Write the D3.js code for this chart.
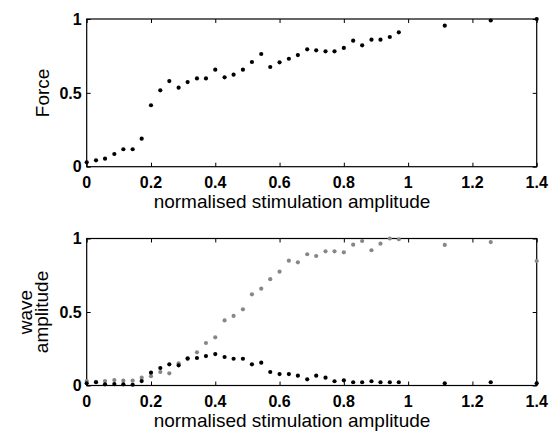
<!DOCTYPE html>
<html>
<head>
<meta charset="utf-8">
<script src="https://cdn.jsdelivr.net/npm/d3@7"></script>
<style>
  html, body { margin: 0; padding: 0; background: #fff; }
  svg { display: block; }
</style>
</head>
<body>
<svg id="chart" width="550" height="431"></svg>
<script>
// ---- data ----
const stimAmp = [0.000,0.029,0.057,0.086,0.114,0.143,0.171,0.200,0.229,0.257,
                 0.286,0.314,0.343,0.371,0.400,0.429,0.457,0.486,0.514,0.543,
                 0.571,0.600,0.629,0.657,0.686,0.714,0.743,0.771,0.800,0.829,
                 0.857,0.886,0.914,0.943,0.971,1.114,1.257,1.400];
const force = [0.030,0.043,0.054,0.086,0.118,0.118,0.190,0.416,0.517,0.580,
               0.535,0.573,0.598,0.598,0.657,0.605,0.623,0.657,0.709,0.763,
               0.675,0.707,0.731,0.756,0.795,0.788,0.781,0.781,0.804,0.853,
               0.822,0.860,0.860,0.878,0.910,0.955,0.990,1.000];
const waveGray = [0.030,0.025,0.030,0.037,0.033,0.033,0.053,0.063,0.092,0.083,
                  0.151,0.180,0.226,0.289,0.328,0.443,0.473,0.518,0.620,0.659,
                  0.723,0.774,0.849,0.838,0.893,0.881,0.913,0.913,0.906,0.958,
                  0.983,0.920,0.965,1.000,0.995,0.956,0.976,0.847];
const waveBlack = [0.015,0.022,0.008,0.010,0.008,0.005,0.030,0.087,0.119,0.144,
                   0.137,0.185,0.187,0.200,0.214,0.194,0.182,0.182,0.144,0.155,
                   0.092,0.078,0.078,0.067,0.042,0.067,0.053,0.029,0.035,0.022,
                   0.022,0.029,0.022,0.022,0.022,0.015,0.022,0.015];
const xTicks = [0,0.2,0.4,0.6,0.8,1,1.2,1.4];
const xTickLabels = ["0","0.2","0.4","0.6","0.8","1","1.2","1.4"];
const yTicks = [0,0.5,1];
const yTickLabels = ["0","0.5","1"];
const xTitle = "normalised stimulation amplitude";

// ---- drawing ----
const svg = d3.select("#chart");
const left = 86.7, right = 536.7;
const x = d3.scaleLinear().domain([0,1.4]).range([left,right]);

function panel(top, bottom, seriesList, yLabelLines, yLabelX) {
  const y = d3.scaleLinear().domain([0,1]).range([bottom, top]);
  const g = svg.append("g");
  const tickLen = 4;

  // box
  g.append("rect").attr("x", left).attr("y", top)
    .attr("width", right-left).attr("height", bottom-top)
    .attr("fill","none").attr("stroke","#000").attr("stroke-width",1.2);

  // inward ticks (all four sides)
  const axB = d3.axisBottom(x).tickValues(xTicks).tickSizeInner(-tickLen).tickSizeOuter(0).tickFormat("");
  const axT = d3.axisTop(x).tickValues(xTicks).tickSizeInner(-tickLen).tickSizeOuter(0).tickFormat("");
  const axL = d3.axisLeft(y).tickValues(yTicks).tickSizeInner(-tickLen).tickSizeOuter(0).tickFormat("");
  const axR = d3.axisRight(y).tickValues(yTicks).tickSizeInner(-tickLen).tickSizeOuter(0).tickFormat("");
  [[axB,`translate(0,${bottom})`],[axT,`translate(0,${top})`],
   [axL,`translate(${left},0)`],[axR,`translate(${right},0)`]].forEach(([ax,tr])=>{
    const a = g.append("g").attr("transform",tr).call(ax);
    a.select(".domain").remove();
    a.selectAll("line").attr("stroke","#000").attr("stroke-width",1);
  });

  // tick labels
  g.selectAll(".xl").data(xTicks).enter().append("text")
    .attr("x", d=>x(d)).attr("y", bottom+21)
    .attr("text-anchor","middle")
    .attr("font-family","Liberation Sans, Arial, sans-serif")
    .attr("font-weight","bold").attr("font-size",16)
    .text((d,i)=>xTickLabels[i]);
  g.selectAll(".yl").data(yTicks).enter().append("text")
    .attr("x", left-5).attr("y", d=>y(d)).attr("dy","0.36em")
    .attr("text-anchor","end")
    .attr("font-family","Liberation Sans, Arial, sans-serif")
    .attr("font-weight","bold").attr("font-size",16)
    .text((d,i)=>yTickLabels[i]);

  // x title
  g.append("text").attr("x",292).attr("y",bottom+41)
    .attr("text-anchor","middle")
    .attr("font-family","Liberation Sans, Arial, sans-serif")
    .attr("font-size",19).text(xTitle);

  // y label
  const cy = (top+bottom)/2;
  yLabelLines.forEach((t,i)=>{
    g.append("text")
      .attr("transform",`translate(${yLabelX[i]},${cy}) rotate(-90)`)
      .attr("text-anchor","middle")
      .attr("font-family","Liberation Sans, Arial, sans-serif")
      .attr("font-size",19).text(t);
  });

  // points
  seriesList.forEach(s=>{
    g.append("g").selectAll("circle").data(s.values).enter().append("circle")
      .attr("cx",(d,i)=>x(stimAmp[i])).attr("cy",d=>y(d))
      .attr("r",2.1).attr("fill",s.color);
  });
}

panel(19, 166.7, [{values: force, color:"#000"}], ["Force"], [49]);
panel(238.5, 385.5, [{values: waveGray, color:"#878787"},{values: waveBlack, color:"#000"}],
      ["wave","amplitude"], [32,48]);
</script>
</body>
</html>
